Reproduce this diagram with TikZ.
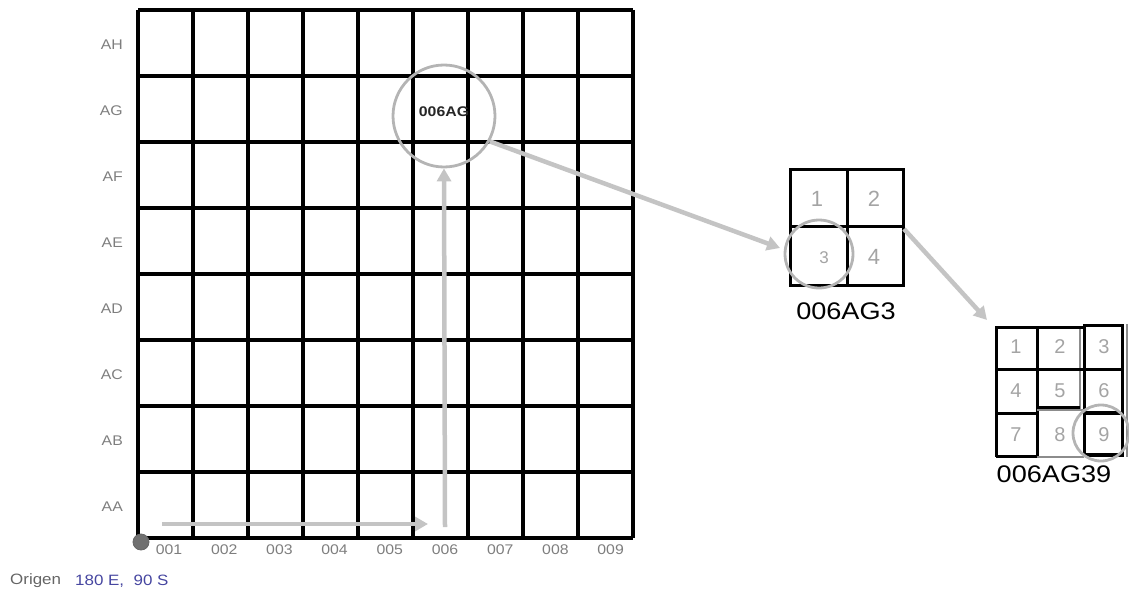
\documentclass[tikz,border=0pt]{standalone}
\usepackage{fontspec}
\setmainfont{Liberation Sans}
\usetikzlibrary{arrows.meta,calc}
\definecolor{arrowgray}{HTML}{C4C4C4}
\definecolor{ringgray}{HTML}{B4B4B4}
\definecolor{labgray}{HTML}{7E7E7E}
\definecolor{numgray}{HTML}{A4A4A4}
\definecolor{origblue}{HTML}{4646A0}
\definecolor{dotgray}{HTML}{707070}
\newcommand{\widen}[1]{\scalebox{1.13}[1]{#1}}
\tikzset{
  gridline/.style={line width=3.4pt, black},
  fineline/.style={line width=3pt, black},
  rowlab/.style={text=labgray, font=\fontsize{14}{14}\selectfont, anchor=east, inner sep=0pt},
  collab/.style={text=labgray, font=\fontsize{14}{14}\selectfont, inner sep=0pt},
  cellnum/.style={text=numgray, font=\fontsize{22}{22}\selectfont, inner sep=0pt},
  smallnum/.style={text=numgray, font=\fontsize{20}{20}\selectfont, inner sep=0pt},
  codelab/.style={text=black, font=\fontsize{24}{24}\selectfont, inner sep=0pt},
  ring/.style={circle, draw=ringgray, line width=2.8pt, inner sep=0pt},
  grayarrow/.style={draw=arrowgray, line width=4.5pt, -{Triangle[length=13pt,width=14pt]}},
}
\begin{document}
\begin{tikzpicture}[x=1pt,y=-1pt]
\useasboundingbox (0,0) rectangle (1129,599);
% main grid
\foreach \i in {0,...,9} { \draw[gridline] ({138+55*\i},10) -- ({138+55*\i},538); }
\foreach \j in {0,...,8} { \draw[gridline] (138,{10+66*\j}) -- (633,{10+66*\j}); }
% row labels
\foreach \lab [count=\k from 0] in {AH,AG,AF,AE,AD,AC,AB,AA} {
  \node[rowlab] (row\k) at (123,{45+66*\k}) {\widen{\lab}};
}
% column labels
\foreach \lab [count=\k from 0] in {001,002,003,004,005,006,007,008,009} {
  \node[collab] (col\k) at ({169+55.2*\k},550) {\widen{\lab}};
}
% origin dot
\node[circle, fill=dotgray, draw=black!60, line width=0.8pt, minimum size=16pt, inner sep=0pt] (origin) at (141,542) {};
% cell label and ring
\node[font=\bfseries\fontsize{14}{14}\selectfont, text=black!85, inner sep=0pt] (code1) at (444,112) {\widen{006AG}};
\node[ring, minimum size=102pt] (c1) at (444,116) {};
% path arrows
\coordinate (hstart) at (162,524);
\coordinate (hend) at (428,524);
\draw[grayarrow] (hstart) -- (hend);
\coordinate (vstart) at (445,527);
\draw[grayarrow] (vstart) -- (c1.south);
% 2x2 grid
\draw[fineline] (790,169) rectangle (903,285);
\draw[fineline] (847,169) -- (847,285);
\draw[fineline] (790,226) -- (903,226);
\node[cellnum] (n1) at (817,199) {1};
\node[cellnum] (n2) at (874,199) {2};
\node[smallnum, font=\fontsize{17}{17}\selectfont] (n3) at (824,258) {3};
\node[cellnum] (n4) at (874,257) {4};
\node[ring, minimum size=68pt] (c2) at (819,254) {};
\node[codelab] (code2) at (846,311) {\widen{006AG3}};
\coordinate (g2out) at (904,229);
% arrow from ring 1 to 2x2
\coordinate (a1end) at (780,248);
\draw[grayarrow] (c1.-29) -- (a1end);
% 3x3 grid
\draw[fineline] (996,326) -- (996,457);
\draw[fineline] (1037,326) -- (1037,457);
\draw[fineline] (1084,324) -- (1084,457);
\draw[fineline] (1122,324) -- (1122,457);
\draw[line width=1.6pt, black!45] (1080,327) -- (1080,410);
\draw[line width=1.6pt, black!45] (1127,324) -- (1127,457);
\draw[fineline] (996,327) -- (1084,327);
\draw[fineline] (1084,325) -- (1122,325);
\draw[fineline] (996,369) -- (1122,369);
\draw[fineline] (996,413) -- (1037,413);
\draw[line width=1.6pt, black!45] (1037,410) -- (1084,410);
\draw[fineline] (1037,407) -- (1080,407);
\draw[line width=4pt, black] (1084,413) -- (1122,413);
\draw[fineline] (996,456) -- (1037,456);
\draw[line width=1.6pt, black!45] (1037,457) -- (1084,457);
\draw[line width=4pt, black] (1084,455) -- (1122,455);
\foreach \d [count=\k from 0] in {1,...,9} {
  \pgfmathtruncatemacro{\cc}{mod(\k,3)}
  \pgfmathtruncatemacro{\rr}{div(\k,3)}
  \node[smallnum] (m\d) at ({1016+44*\cc},{347+44*\rr}) {\d};
}
\node[ring, minimum size=56pt] (c3) at (1101,433) {};
\node[codelab] (code3) at (1054,474) {\widen{006AG39}};
% arrow from 2x2 to 3x3
\coordinate (a2end) at (987,320);
\draw[grayarrow] (g2out) -- (a2end);
% origin text
\node[anchor=west, inner sep=0pt, font=\fontsize{15}{15}\selectfont, text=labgray!80!black] (orig) at (10,581) {\widen{Origen}};
\node[anchor=west, inner sep=0pt, font=\fontsize{15}{15}\selectfont, text=origblue] (origval) at (75,581) {\widen{180 E,\ \ 90 S}};
\end{tikzpicture}
\end{document}
